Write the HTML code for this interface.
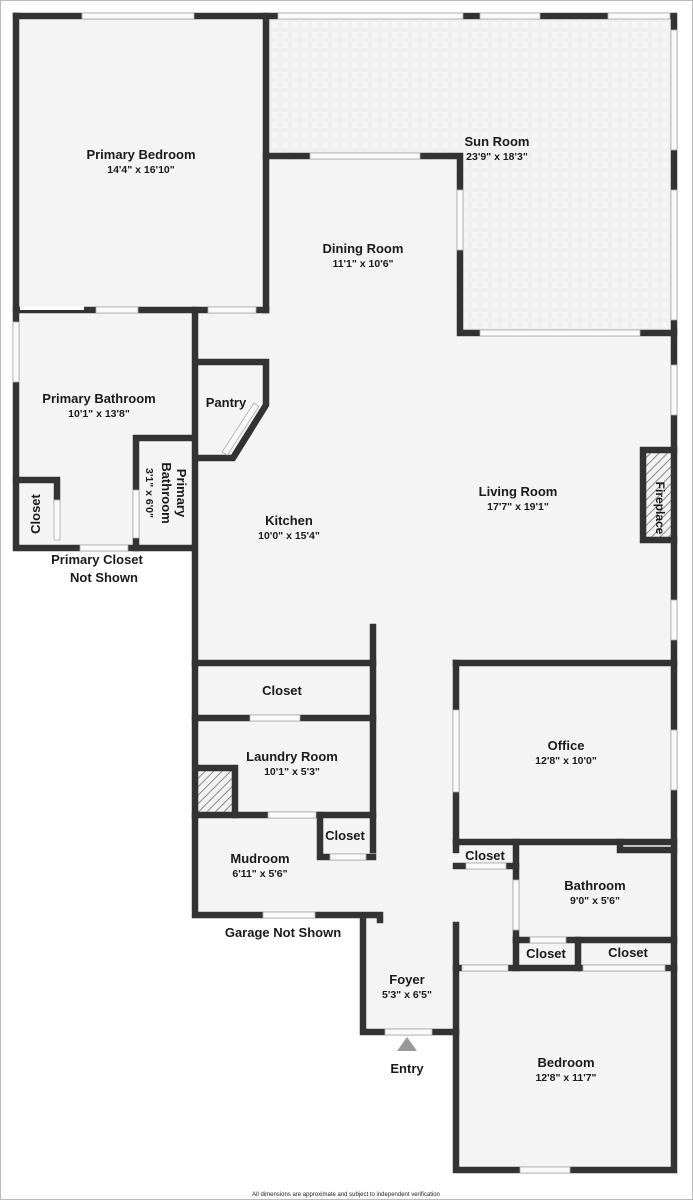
<!DOCTYPE html>
<html><head><meta charset="utf-8"><style>
html,body{margin:0;padding:0;background:#fff}
svg{display:block}
text{font-family:"Liberation Sans","DejaVu Sans",sans-serif;fill:#1a1a1a;text-anchor:middle}
.n{font-size:13px;font-weight:bold}
.d{font-size:10.5px;font-weight:bold}
</style></head><body>
<svg width="693" height="1200" viewBox="0 0 693 1200" xmlns="http://www.w3.org/2000/svg">
<defs>
<pattern id="tile" width="10" height="10" patternUnits="userSpaceOnUse">
<rect width="10" height="10" fill="#f6f6f6"/>
<rect x="1" y="1" width="8" height="8" fill="none" stroke="#e9e9e9" stroke-width="1"/>
</pattern>
<pattern id="hatch" width="6" height="6" patternUnits="userSpaceOnUse" patternTransform="rotate(45)">
<rect width="6" height="6" fill="#f2f2f2"/><line x1="0" y1="0" x2="0" y2="6" stroke="#666" stroke-width="1.5"/>
</pattern>
</defs>
<rect x="0.5" y="0.5" width="692" height="1199" fill="#fff" stroke="#bbb"/>
<polygon points="16,16 674,16 674,1170 456,1170 456,1032 360,1032 360,915 193,915 193,548 16,548" fill="#f4f4f4"/>
<polygon points="266,16 674,16 674,333 460,333 460,156 266,156" fill="url(#tile)"/>
<rect x="198" y="768" width="36" height="46" fill="url(#hatch)"/>
<rect x="645" y="452" width="28" height="86" fill="url(#hatch)"/>
<g fill="none" stroke="#333" stroke-width="6.5" stroke-linecap="square">
<path d="M16,16 H674 V1170 H456 V925"/>
<path d="M16,16 V548 H193"/>
<path d="M266,16 V310"/>
<path d="M16,310 H266"/>
<path d="M266,156 H460 V333 H674"/>
<path d="M195,310 V915 H380 V920"/>
<path d="M363,918 V1032 H456"/>
<path d="M196,362 H266 V405 L233,458 H196"/>
<path d="M136,548 V438 H193"/>
<path d="M16,480 H57 V500"/>
<path d="M195,663 H373"/>
<path d="M373,627 V850"/>
<path d="M195,718 H373"/>
<path d="M195,815 H373"/>
<path d="M198,768 H235 V815"/>
<path d="M320,815 V857 H373"/>
<path d="M456,663 H674"/>
<path d="M456,663 V850"/>
<path d="M456,842 H674"/>
<path d="M516,842 V940"/>
<path d="M456,866 H516"/>
<path d="M516,940 H674"/>
<path d="M578,940 V968"/>
<path d="M456,968 H674"/>
<path d="M516,940 V968"/>
<path d="M643,450 V540 H674 M643,450 H674"/>
<path d="M620,842 V850 H674"/>
</g>
<g fill="#fafafa" stroke="#aaa" stroke-width="0.8">
<rect x="82" y="13" width="112" height="6"/>
<rect x="278" y="13" width="185" height="6"/>
<rect x="480" y="13" width="60" height="6"/>
<rect x="608" y="13" width="62" height="6"/>
<rect x="671" y="30" width="6" height="120"/>
<rect x="671" y="190" width="6" height="130"/>
<rect x="310" y="153" width="110" height="6"/>
<rect x="457" y="190" width="6" height="60"/>
<rect x="480" y="330" width="160" height="6"/>
<rect x="671" y="365" width="6" height="50"/>
<rect x="671" y="600" width="6" height="40"/>
<rect x="671" y="730" width="6" height="60"/>
<rect x="96" y="307" width="42" height="6"/>
<rect x="208" y="307" width="48" height="6"/>
<rect x="13" y="322" width="6" height="60"/>
<rect x="20" y="306" width="64" height="4" fill="#fff" stroke="none"/>
<rect x="80" y="545" width="48" height="6"/>
<rect x="133" y="490" width="6" height="48"/>
<rect x="54" y="500" width="6" height="40"/>
<rect x="237" y="400" width="6" height="58" transform="rotate(33 240 430)"/>
<rect x="250" y="715" width="50" height="6"/>
<rect x="268" y="812" width="48" height="6"/>
<rect x="330" y="854" width="36" height="6"/>
<rect x="263" y="912" width="52" height="6"/>
<rect x="385" y="1029" width="47" height="6"/>
<rect x="453" y="710" width="6" height="82"/>
<rect x="466" y="863" width="40" height="6"/>
<rect x="513" y="880" width="6" height="50"/>
<rect x="530" y="937" width="36" height="6"/>
<rect x="462" y="965" width="46" height="6"/>
<rect x="583" y="965" width="82" height="6"/>
<rect x="520" y="1167" width="50" height="6"/>
</g>
<polygon points="407,1037 397,1051 417,1051" fill="#999"/>
<text class="n" x="141" y="159">Primary Bedroom</text><text class="d" x="141" y="173">14'4" x 16'10"</text>
<text class="n" x="497" y="146">Sun Room</text><text class="d" x="497" y="160">23'9" x 18'3"</text>
<text class="n" x="363" y="253">Dining Room</text><text class="d" x="363" y="267">11'1" x 10'6"</text>
<text class="n" x="99" y="403">Primary Bathroom</text><text class="d" x="99" y="417">10'1" x 13'8"</text>
<text class="n" x="226" y="407">Pantry</text>
<text class="n" x="518" y="496">Living Room</text><text class="d" x="518" y="510">17'7" x 19'1"</text>
<text class="n" x="289" y="525">Kitchen</text><text class="d" x="289" y="539">10'0" x 15'4"</text>
<text class="n" transform="translate(40,514) rotate(-90)">Closet</text>
<text class="n" transform="translate(177,493) rotate(90)">Primary</text>
<text class="n" transform="translate(162,493) rotate(90)">Bathroom</text>
<text class="d" transform="translate(146,493) rotate(90)">3'1" x 6'0"</text>
<text class="n" style="font-size:12px" transform="translate(656,508) rotate(90)">Fireplace</text>
<text class="n" x="97" y="564">Primary Closet</text><text class="n" x="104" y="582">Not Shown</text>
<text class="n" x="282" y="695">Closet</text>
<text class="n" x="292" y="761">Laundry Room</text><text class="d" x="292" y="775">10'1" x 5'3"</text>
<text class="n" x="566" y="750">Office</text><text class="d" x="566" y="764">12'8" x 10'0"</text>
<text class="n" x="345" y="840">Closet</text>
<text class="n" x="260" y="863">Mudroom</text><text class="d" x="260" y="877">6'11" x 5'6"</text>
<text class="n" x="485" y="860">Closet</text>
<text class="n" x="595" y="890">Bathroom</text><text class="d" x="595" y="904">9'0" x 5'6"</text>
<text class="n" x="283" y="937">Garage Not Shown</text>
<text class="n" x="546" y="958">Closet</text>
<text class="n" x="628" y="957">Closet</text>
<text class="n" x="407" y="984">Foyer</text><text class="d" x="407" y="998">5'3" x 6'5"</text>
<text class="n" x="407" y="1073">Entry</text>
<text class="n" x="566" y="1067">Bedroom</text><text class="d" x="566" y="1081">12'8" x 11'7"</text>
<text x="346" y="1196" style="font-size:6px">All dimensions are approximate and subject to independent verification</text>
</svg>
</body></html>
